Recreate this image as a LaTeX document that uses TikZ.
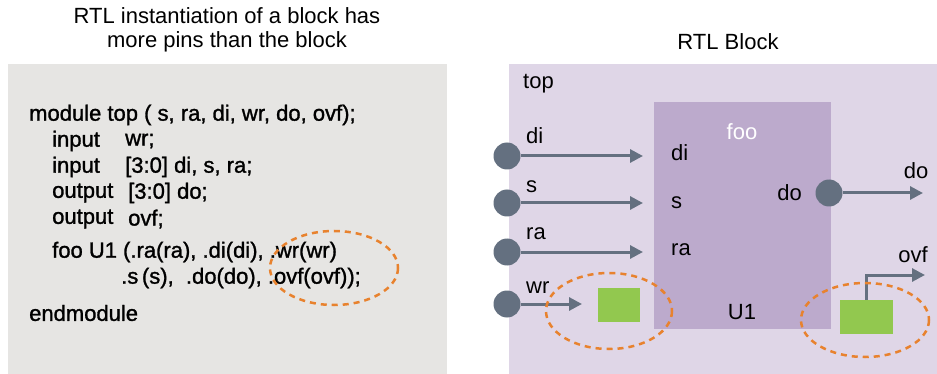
\documentclass[tikz,border=0pt]{standalone}
\usepackage{fontspec}
\setmainfont{Liberation Sans}
\newfontfamily\codefont[FakeBold=1.3]{Liberation Sans}
\usetikzlibrary{arrows.meta}

\definecolor{codegray}{HTML}{E6E5E3}
\definecolor{toplilac}{HTML}{DFD6E7}
\definecolor{foolilac}{HTML}{BCAACC}
\definecolor{slate}{HTML}{647080}
\definecolor{leafgreen}{HTML}{92C84F}
\definecolor{dashorange}{HTML}{E8822E}

\begin{document}
\begin{tikzpicture}[x=1pt,y=-1pt,font=\fontsize{22}{24}\selectfont,
    pane/.style={anchor=north west,inner sep=0pt,outer sep=0pt},
    pin/.style={circle,fill=slate,minimum size=27pt,inner sep=0pt},
    greenbox/.style={fill=leafgreen,inner sep=0pt},
    wire/.style={draw=slate,line width=3pt,-{Triangle[length=13pt,width=13pt]}},
    hilite/.style={draw=dashorange,line width=2.5pt,dash pattern=on 6pt off 5pt}]
    \useasboundingbox (0,0) rectangle (937,374);

    % titles
    \node[align=center] (ttlcode) at (227,30) {RTL instantiation of a block has\\more pins than the block};
    \node (ttlblock) at (728,42) {RTL Block};

    % panes
    \node[pane,fill=codegray,minimum width=439pt,minimum height=310pt] (codepane) at (8,64) {};
    \node[pane,fill=toplilac,minimum width=428pt,minimum height=310pt] (toppane) at (509,64) {};
    \node[pane,fill=foolilac,minimum width=177pt,minimum height=227pt] (foo) at (654,102) {};

    % verilog text
    \begin{scope}[every node/.style={anchor=west,inner sep=0pt,font=\fontsize{22}{24}\codefont}]
        \node (l1) at (29,115) {module top ( s, ra, di, wr, do, ovf);};
        \node (l2) at (52,141) {input};
        \node (l2a) at (125,141) {wr;};
        \node (l3) at (52,167) {input};
        \node (l3a) at (125,167) {[3:0] di, s, ra;};
        \node (l4) at (52,193) {output};
        \node (l4a) at (128,193) {[3:0] do;};
        \node (l5) at (52,219) {output};
        \node (l5a) at (128,219) {ovf;};
        \node (l6) at (52,252) {foo U1 (.ra(ra), .di(di), .wr(wr)};
        \node (l7) at (121,278) {.s\,(s),\ \ .do(do), .ovf(ovf));};
        \node (l8) at (29,313) {endmodule};
    \end{scope}
    \draw[hilite] (334,268) ellipse [x radius=64, y radius=37];

    % block labels
    \node[anchor=west,inner sep=0pt] (toplbl) at (523,84) {top};
    \node[text=white] (foolbl) at (742,132) {foo};
    \node (u1) at (742,312) {U1};
    \begin{scope}[every node/.style={anchor=west,inner sep=0pt}]
        \node (idi) at (671,153) {di};
        \node (is) at (671,203) {s};
        \node (ira) at (671,250) {ra};
        \node (wdi) at (526,136) {di};
        \node (ws) at (526,187) {s};
        \node (wra) at (526,234) {ra};
        \node (wwr) at (526,288) {wr};
    \end{scope}
    \node[anchor=east,inner sep=0pt] (ido) at (802,193) {do};
    \node (wdo) at (916,171) {do};
    \node (wovf) at (913,255) {ovf};

    % ports
    \node[pin] (pdi) at (507,156) {};
    \node[pin] (ps) at (507,203) {};
    \node[pin] (pra) at (507,252) {};
    \node[pin] (pwr) at (507,304) {};
    \node[pin] (pdo) at (829,193) {};
    \node[greenbox,minimum width=42pt,minimum height=34pt] (gwr) at (619,305) {};
    \node[greenbox,minimum width=53pt,minimum height=34pt] (govf) at (866,317) {};

    \coordinate (tdi) at (643,156);
    \coordinate (ts) at (643,203);
    \coordinate (tra) at (643,252);
    \coordinate (twr) at (582,304);
    \coordinate (tdo) at (923,193);
    \coordinate (tovf) at (925,275);

    \draw[wire] (pdi) -- (tdi);
    \draw[wire] (ps) -- (ts);
    \draw[wire] (pra) -- (tra);
    \draw[wire] (pwr) -- (twr);
    \draw[wire] (pdo) -- (tdo);
    \draw[wire] (govf.north) |- (tovf);

    \draw[hilite] (609,311) ellipse [x radius=63, y radius=38];
    \draw[hilite] (865,320) ellipse [x radius=64, y radius=37];
\end{tikzpicture}
\end{document}
